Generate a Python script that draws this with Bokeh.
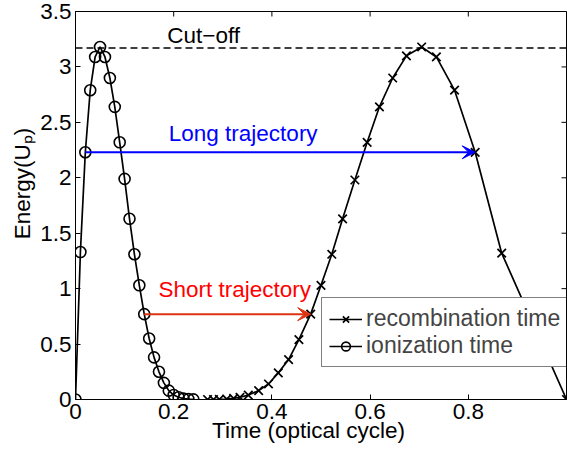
import math
from bokeh.plotting import figure
from bokeh.models import (Arrow, VeeHead, Legend, LegendItem, Label,
                          Span, FixedTicker, Range1d, NumeralTickFormatter)
from bokeh.embed import file_html
from bokeh.resources import INLINE

# ---------------- data ----------------
t_ion = [0.00, 0.01, 0.02, 0.03, 0.04, 0.05, 0.06, 0.07, 0.08, 0.09,
         0.10, 0.11, 0.12, 0.13, 0.14, 0.15, 0.16, 0.17, 0.18, 0.19,
         0.20, 0.21, 0.22, 0.23, 0.24]
E_ion = [0.00, 1.33, 2.23, 2.79, 3.09, 3.18, 3.09, 2.90, 2.64, 2.32,
         1.99, 1.63, 1.31, 1.03, 0.77, 0.55, 0.38, 0.25, 0.15, 0.08,
         0.04, 0.02, 0.008, 0.003, 0.001]

t_rec = [1.000, 0.868, 0.814, 0.772, 0.735, 0.705, 0.674, 0.646, 0.619, 0.594,
         0.569, 0.544, 0.522, 0.500, 0.479, 0.455, 0.434, 0.413, 0.393, 0.373,
         0.352, 0.335, 0.322, 0.308, 0.293, 0.281, 0.269]
E_rec = [0.00, 1.32, 2.23, 2.79, 3.09, 3.18, 3.10, 2.90, 2.64, 2.32,
         1.98, 1.63, 1.31, 1.03, 0.77, 0.54, 0.36, 0.24, 0.14, 0.08,
         0.04, 0.02, 0.01, 0.004, 0.001, 0.0, 0.0]

cutoff = 3.17
long_idx = 2    # index of long-trajectory pair
short_idx = 14  # index of short-trajectory pair

# the "1" label sits cut off at the window's right edge in the reference
x_ticks = [0, 0.2, 0.4, 0.6, 0.8]
x_tick_labels = ["0", "0.2", "0.4", "0.6", "0.8"]
x_box_ticks = [0, 0.2, 0.4, 0.6, 0.8, 1.0]
y_ticks = [0, 0.5, 1.0, 1.5, 2.0, 2.5, 3.0, 3.5]
y_tick_labels = ["0", "0.5", "1", "1.5", "2", "2.5", "3", "3.5"]

NB = "\u00a0"
x_title = "Time (optical cycle)" + NB * 4
y_title = NB * 7 + "Energy(U\u209a)"

FONT = "Liberation Sans"
FS = "22.5px"

p = figure(width=567, height=455,
           x_range=Range1d(0, 1), y_range=Range1d(0, 3.5),
           output_backend="svg", toolbar_location=None,
           min_border_left=75, min_border_top=11, min_border_right=1,
           min_border_bottom=56, background_fill_color="white",
           border_fill_color="white")
p.grid.visible = False
p.outline_line_color = "black"
p.outline_line_width = 1

def style_axis(ax, ticks, labels):
    ax.ticker = FixedTicker(ticks=ticks)
    ax.major_label_overrides = dict(zip(ticks, labels))
    ax.formatter = NumeralTickFormatter(format="0.[0]")
    ax.major_tick_in = 5
    ax.major_tick_out = 0
    ax.minor_tick_line_color = None
    ax.axis_line_color = "black"
    ax.major_tick_line_color = "black"
    ax.major_label_text_font = FONT
    ax.major_label_text_color = "black"
    ax.major_label_text_font_size = FS
    ax.major_label_standoff = 4
    ax.axis_label_text_font = FONT
    ax.axis_label_text_font_size = FS
    ax.axis_label_text_font_style = "normal"
    ax.axis_label_text_color = "black"

style_axis(p.xaxis[0], x_ticks, x_tick_labels)
style_axis(p.yaxis[0], y_ticks, y_tick_labels)
p.xaxis.axis_label = x_title
p.yaxis.axis_label = y_title
p.xaxis[0].axis_label_standoff = -4
p.yaxis[0].axis_label_standoff = 2

# inward tick marks on the top and right edges of the box (half clipped by the frame)
p.scatter([p.x_range.end] * len(y_ticks), y_ticks, marker="dash", size=10,
          line_color="black", line_width=1)
p.scatter(x_box_ticks, [p.y_range.end] * len(x_box_ticks), marker="dash",
          angle=math.pi / 2, size=10, line_color="black", line_width=1)

# cut-off line
p.add_layout(Span(location=cutoff, dimension="width", line_color="black",
                  line_dash="7 4", line_width=1.5))

# curves
r_rec_line = p.line(t_rec, E_rec, line_color="black", line_width=1.7)
r_rec_mk = p.scatter(t_rec, E_rec, marker="x", size=12, line_color="black",
                     line_width=1.7)
r_ion_line = p.line(t_ion, E_ion, line_color="black", line_width=1.7)
r_ion_mk = p.scatter(t_ion, E_ion, marker="circle", size=11, line_color="black",
                     fill_color=None, line_width=1.6)

# arrows
p.add_layout(Arrow(end=VeeHead(size=13, fill_color="#0000ff", line_color="#0000ff"),
                   x_start=t_ion[long_idx], y_start=E_ion[long_idx],
                   x_end=t_rec[long_idx], y_end=E_rec[long_idx],
                   line_color="#0000ff", line_width=2))
p.add_layout(Arrow(end=VeeHead(size=13, fill_color="#dd3311", line_color="#dd3311"),
                   x_start=t_ion[short_idx], y_start=E_ion[short_idx],
                   x_end=t_rec[short_idx], y_end=E_rec[short_idx],
                   line_color="#dd3311", line_width=2))

# text annotations
p.add_layout(Label(x=0.187, y=3.28, text="Cut\u2212off", text_font=FONT,
                   text_font_size=FS, text_color="black", text_baseline="middle"))
p.add_layout(Label(x=0.19, y=2.40, text="Long trajectory", text_font=FONT,
                   text_font_size=FS, text_color="#0000ff", text_baseline="middle"))
p.add_layout(Label(x=0.169, y=0.99, text="Short trajectory", text_font=FONT,
                   text_font_size=FS, text_color="#ff0000", text_baseline="middle"))

legend = Legend(items=[LegendItem(label="recombination time", renderers=[r_rec_line, r_rec_mk]),
                       LegendItem(label="ionization time", renderers=[r_ion_line, r_ion_mk])],
                location=(246, 32), margin=0, padding=7, spacing=0,
                glyph_width=33, glyph_height=22, label_height=22, label_standoff=4,
                label_text_font=FONT, label_text_font_size="23px",
                border_line_color="black", border_line_width=1,
                background_fill_color="white", background_fill_alpha=1)
p.add_layout(legend, "center")

open("out.html", "w").write(file_html(p, INLINE))
